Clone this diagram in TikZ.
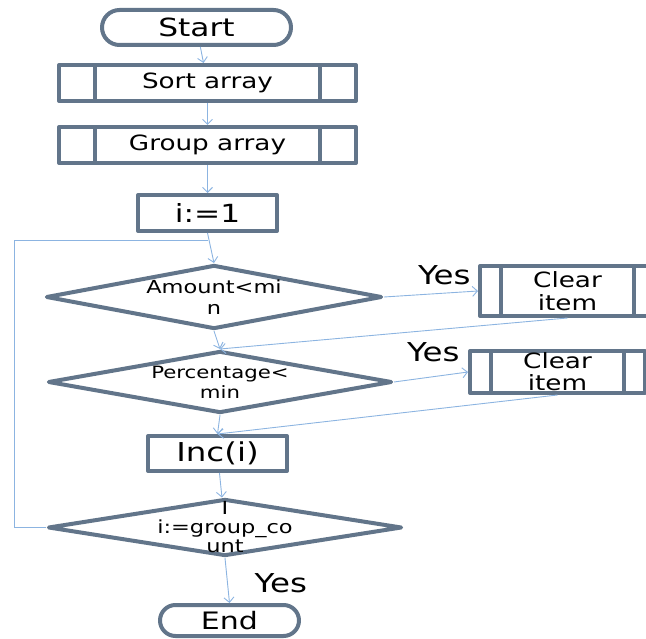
\documentclass[tikz,border=0pt]{standalone}
\usepackage{fontspec}
\setmainfont[FakeStretch=1.25]{DejaVu Sans}
\usetikzlibrary{positioning,shapes.geometric,shapes.misc,arrows.meta}
\definecolor{framegray}{RGB}{98,117,138}
\definecolor{flowblue}{RGB}{140,180,225}

\tikzset{
  box/.style={draw=framegray, line width=4pt, line join=round, fill=white,
    inner sep=0pt, align=center, text=black},
  term/.style={box, rounded rectangle},
  proc/.style={box, rectangle, minimum width=139pt, minimum height=36pt},
  subproc/.style={box, rectangle, path picture={
      \draw[framegray, line width=4pt]
        ([xshift=#1]path picture bounding box.north west) -- ([xshift=#1]path picture bounding box.south west)
        ([xshift=-#1]path picture bounding box.north east) -- ([xshift=-#1]path picture bounding box.south east);}},
  decision/.style={box, diamond, aspect=5.3},
  flow/.style={draw=flowblue, line width=0.9pt, -{Straight Barb[length=5pt,width=10pt]}},
  yes/.style={font=\fontsize{26}{26}\selectfont}
}

\begin{document}
\begin{tikzpicture}
  \useasboundingbox (0,0) rectangle (646pt,-639pt);
  \clip (0,0) rectangle (646pt,-639pt);

  % main column
  \node[term, minimum width=189pt, minimum height=35pt, font=\fontsize{25}{25}\selectfont] (start) at (196.5pt,-27.5pt) {Start};
  \node[subproc=36pt, minimum width=297pt, minimum height=36pt, font=\fontsize{21}{21}\selectfont, below=16pt of start, xshift=11pt] (sort) {Sort array};
  \node[subproc=36pt, minimum width=297pt, minimum height=36pt, font=\fontsize{21}{21}\selectfont, below=22pt of sort] (group) {Group array};
  \node[proc, font=\fontsize{25}{25}\selectfont, below=28pt of group] (init) {i:=1};
  \node[decision, minimum width=336pt, minimum height=64pt, font=\fontsize{18}{21}\selectfont, below=30pt of init, xshift=6.5pt] (amount) {Amount<mi\\n};
  \node[decision, minimum width=344pt, minimum height=62pt, font=\fontsize{17}{20}\selectfont, below=18pt of amount, xshift=6pt] (percent) {Percentage<\\min};
  \node[proc, minimum height=35pt, font=\fontsize{26}{26}\selectfont, below=19pt of percent, xshift=-2.5pt] (inc) {Inc(i)};
  \node[decision, minimum width=354pt, minimum height=57pt, below=24pt of inc, xshift=7.5pt,
    label={[align=center, text=black, font=\fontsize{18}{19}\selectfont]center:{I\\i:=group\_co\\unt}}] (last) {};
  \node[term, minimum width=139pt, minimum height=31pt, font=\fontsize{24}{24}\selectfont, below=45pt of last, xshift=4.5pt] (end) {End};

  % side boxes
  \node[subproc=21pt, minimum width=175pt, minimum height=50pt, font=\fontsize{21}{23}\selectfont, right=94pt of amount, yshift=6pt] (clear1) {Clear\\item};
  \node[subproc=21pt, minimum width=175pt, minimum height=42pt, font=\fontsize{21}{22}\selectfont, right=74pt of percent, yshift=10pt] (clear2) {Clear\\item};

  % labels
  \node[yes, anchor=east] (yes1) at ([xshift=-4pt,yshift=16pt]clear1.west) {Yes};
  \node[yes, anchor=east] (yes2) at ([xshift=-5pt,yshift=20pt]clear2.west) {Yes};
  \node[yes, anchor=west] (yes3) at ([xshift=21.5pt,yshift=20pt]end.north) {Yes};

  % connectors
  \draw[flow] (start) -- (sort);
  \draw[flow] (sort) -- (group);
  \draw[flow] (group) -- (init);
  \draw[flow] (init.south) -- (amount.north);
  \draw[flow] (amount.east) -- (clear1.west);
  \draw[flow] (amount.south) -- (percent.north);
  \draw[flow] (clear1.south) -- (percent.north);
  \draw[flow] (percent.east) -- (clear2.west);
  \draw[flow] (percent.south) -- (inc.north);
  \draw[flow] (clear2.south) -- (inc.north);
  \draw[flow] (inc) -- (last);
  \draw[flow] (last.south) -- (end.north);

  % loop back
  \coordinate (loopjoin) at ([yshift=-7pt]init.south);
  \draw[flow, -] (last.west) -- ++(-32pt,0) |- (loopjoin);
\end{tikzpicture}
\end{document}
